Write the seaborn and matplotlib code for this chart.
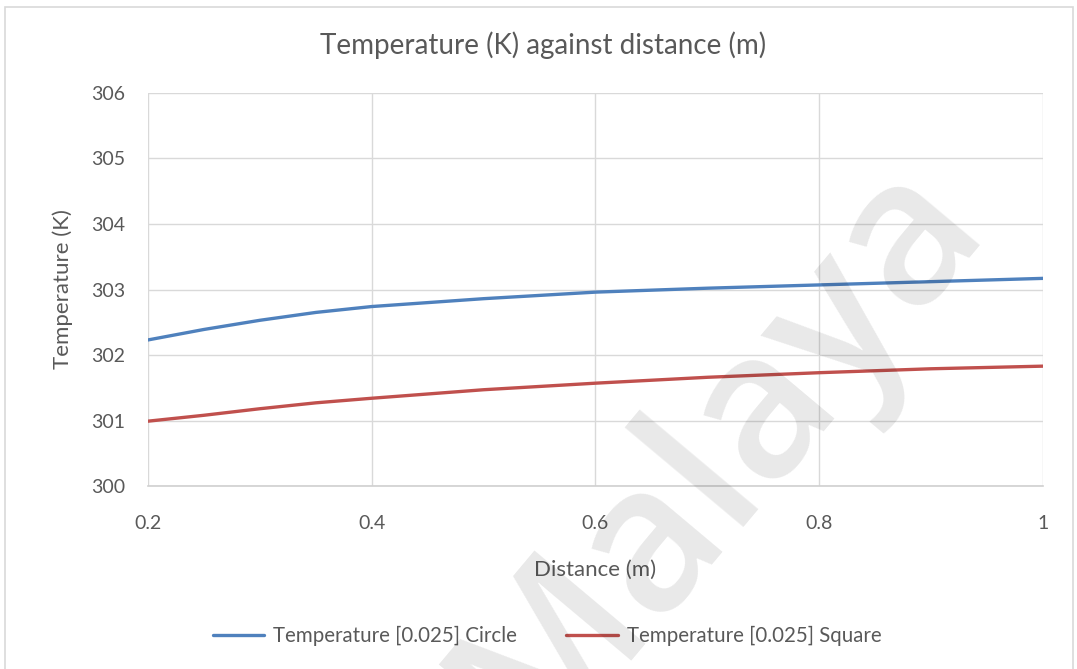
import matplotlib
matplotlib.use("Agg")
import matplotlib.pyplot as plt
import seaborn as sns
import pandas as pd
from matplotlib.patches import Rectangle

distance = [0.2, 0.25, 0.3, 0.35, 0.4, 0.5, 0.6, 0.7, 0.8, 0.9, 1.0]
temp_circle = [302.23, 302.39, 302.53, 302.65, 302.74, 302.86, 302.96, 303.02, 303.07, 303.12, 303.17]
temp_square = [300.99, 301.08, 301.18, 301.27, 301.34, 301.47, 301.57, 301.66, 301.73, 301.79, 301.83]
series_names = ["Temperature [0.025] Circle", "Temperature [0.025] Square"]
x_ticks = [0.2, 0.4, 0.6, 0.8, 1.0]
x_tick_labels = ["0.2", "0.4", "0.6", "0.8", "1"]
y_ticks = [300, 301, 302, 303, 304, 305, 306]

df = pd.DataFrame({
    "Distance": distance * 2,
    "Temperature": temp_circle + temp_square,
    "Series": [series_names[0]] * len(distance) + [series_names[1]] * len(distance),
})

sns.set_theme(style="white")
plt.rcParams["font.family"] = ["Lato", "DejaVu Sans"]
txt = "#595959"

fig = plt.figure(figsize=(10.77, 6.69), dpi=100)
ax = fig.add_axes([0.1374, 0.2735, 0.831, 0.5875])

sns.lineplot(data=df, x="Distance", y="Temperature", hue="Series",
             palette=["#4F81BD", "#C0504D"], linewidth=2.4, ax=ax, legend=True)

ax.set_xlim(0.2, 1.0)
ax.set_ylim(300, 306)
ax.set_xticks(x_ticks)
ax.set_xticklabels(x_tick_labels)
ax.set_yticks(y_ticks)
ax.grid(True, color="#D9D9D9", linewidth=1.0)
ax.set_axisbelow(True)
for s in ["top", "right", "left"]:
    ax.spines[s].set_visible(False)
ax.spines["bottom"].set_color("#D0D0D0")
ax.spines["bottom"].set_linewidth(1.2)
ax.tick_params(axis="both", length=0, labelsize=14, colors=txt)
ax.tick_params(axis="x", pad=21)
ax.tick_params(axis="y", pad=16.5)
ax.set_xlabel("Distance (m)", fontsize=16, color=txt, labelpad=20)
ax.set_ylabel("Temperature (K)", fontsize=16, color=txt, labelpad=13)

fig.text(0.504, 0.933, "Temperature (K) against distance (m)", ha="center", va="center",
         fontsize=20, color=txt)

handles, labels = ax.get_legend_handles_labels()
ax.legend(handles, labels, loc="center", bbox_to_anchor=(0.508, 0.049),
          bbox_transform=fig.transFigure, ncol=2, frameon=False,
          fontsize=14.8, labelcolor=txt, handlelength=2.5, columnspacing=2.4,
          handletextpad=0.45)

fig.patches.append(Rectangle((0.0046, -0.01), 0.992, 1.0, transform=fig.transFigure,
                             fill=False, edgecolor="#D9D9D9", linewidth=1.2))

fig.text(0.666, 0.322, "Malaya", rotation=50, ha="center", va="center",
         fontsize=146, family="Open Sans", fontweight="semibold",
         color="black", alpha=0.09, zorder=10)

fig.savefig("out.png", dpi=100, facecolor="white")
